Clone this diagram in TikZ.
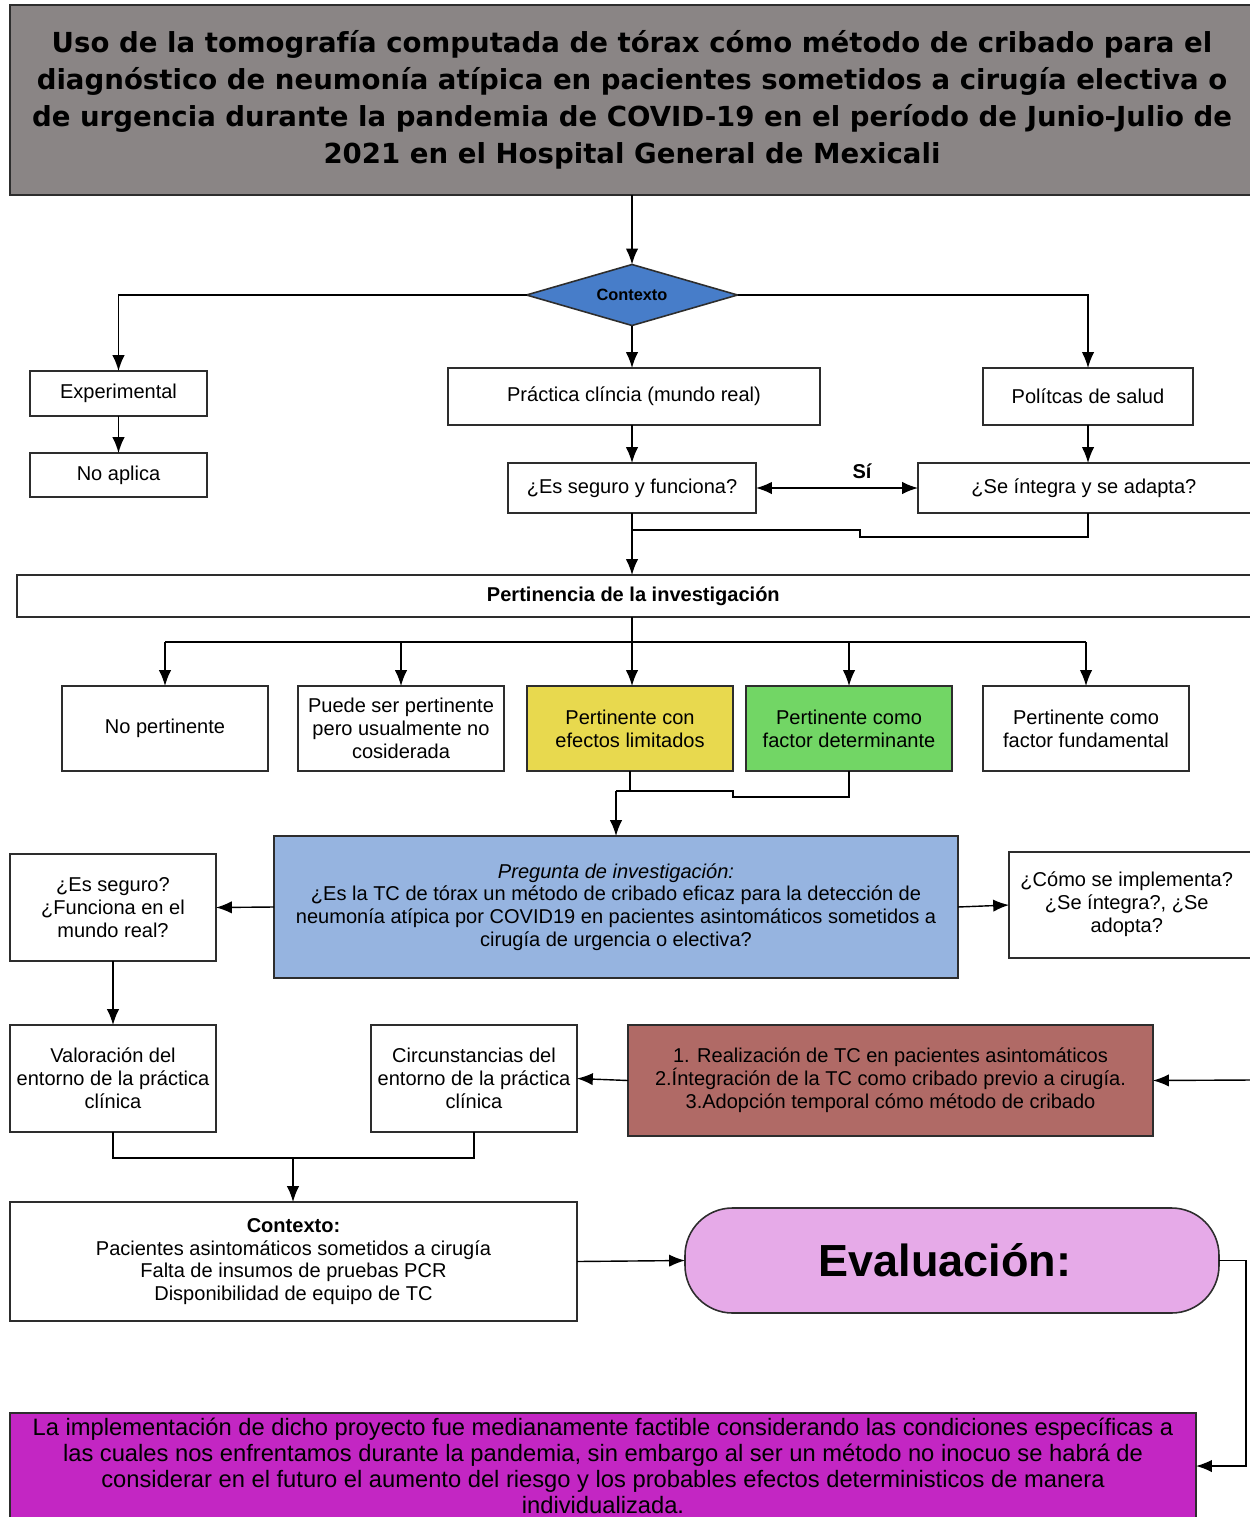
\documentclass[tikz,border=0pt]{standalone}
\usepackage{fontspec}
\setmainfont{Liberation Sans}
\newfontfamily\titlefont{DejaVu Sans}
\usetikzlibrary{shapes.geometric,arrows.meta}

\definecolor{titlegray}{RGB}{138,133,133}
\definecolor{ctxblue}{RGB}{71,125,201}
\definecolor{limyellow}{RGB}{232,217,78}
\definecolor{detgreen}{RGB}{114,214,101}
\definecolor{pregblue}{RGB}{150,180,224}
\definecolor{stepred}{RGB}{176,106,102}
\definecolor{evalpink}{RGB}{230,170,232}
\definecolor{concmag}{RGB}{195,38,195}
\definecolor{edge}{RGB}{45,45,45}

\begin{document}
\begin{tikzpicture}[x=0.02cm, y=-0.02cm, >={Latex[length=9pt,width=7pt]},
  box/.style 2 args = {draw=edge, line width=0.9pt, inner sep=0pt, outer sep=0pt, align=center,
    minimum width=#1*0.02cm, minimum height=#2*0.02cm, font=\fontsize{11.4}{13}\selectfont},
  link/.style = {draw=black, line width=0.8pt}]

% Frame
\useasboundingbox (0,0) rectangle (1250,1517);
\clip (0,0) rectangle (1250,1517);

% Title
\node[box={1244}{190}, fill=titlegray, font=\titlefont\bfseries\fontsize{15.7}{21}\selectfont] (title) at (632,100)
  {Uso de la tomografía computada de tórax cómo método de cribado para el\\
   diagnóstico de neumonía atípica en pacientes sometidos a cirugía electiva o\\
   de urgencia durante la pandemia de COVID-19 en el período de Junio-Julio de\\
   2021 en el Hospital General de Mexicali};

% Context
\node[draw=edge, line width=0.9pt, diamond, aspect=3.46, fill=ctxblue, inner sep=0pt, outer sep=0pt,
  minimum width=211*0.02cm, minimum height=61*0.02cm, font=\bfseries\fontsize{9.3}{11}\selectfont] (ctx) at (632,295) {Contexto};

\node[box={177}{45}] (exp) at (118.5,393.5) {Experimental};
\node[box={177}{44}] (noap) at (118.5,475) {No aplica};
\node[box={372}{57}] (prac) at (634,396.5) {Práctica clíncia (mundo real)};
\node[box={210}{57}] (pol) at (1088,396.5) {Polítcas de salud};
\node[box={248}{50}] (seg) at (632,488) {¿Es seguro y funciona?};
\node[box={344}{50}] (integ) at (1090,488) {\hspace*{-7pt}¿Se íntegra y se adapta?};
\node[font=\bfseries\fontsize{11.4}{13}\selectfont, inner sep=0pt] (si) at (862,471) {Sí};

% Relevance
\node[box={1245}{42}, font=\bfseries\fontsize{11.4}{13}\selectfont] (pert) at (639.5,596)
  {\hspace*{-7pt}Pertinencia de la investigación};
\node[box={206}{85}] (np1) at (165,728.5) {No pertinente};
\node[box={206}{85}] (np2) at (401,728.5) {Puede ser pertinente\\pero usualmente no\\cosiderada};
\node[box={206}{85}, fill=limyellow] (np3) at (630,728.5) {Pertinente con\\efectos limitados};
\node[box={206}{85}, fill=detgreen] (np4) at (849,728.5) {Pertinente como\\factor determinante};
\node[box={206}{85}] (np5) at (1086,728.5) {Pertinente como\\factor fundamental};

% Question
\node[box={684}{142}, fill=pregblue] (preg) at (616,907)
  {\textit{Pregunta de investigación:}\\
   ¿Es la TC de tórax un método de cribado eficaz para la detección de\\
   neumonía atípica por COVID19 en pacientes asintomáticos sometidos a\\
   cirugía de urgencia o electiva?};
\node[box={206}{107}] (segq) at (113,907.5) {¿Es seguro?\\¿Funciona en el\\mundo real?};
\node[box={253}{106}] (impl) at (1135.5,905) {\hspace*{-10pt}\begin{tabular}{@{}c@{}}¿Cómo se implementa?\\¿Se íntegra?, ¿Se\\adopta?\end{tabular}};

% Setting
\node[box={206}{107}] (val) at (113,1078.5) {Valoración del\\entorno de la práctica\\clínica};
\node[box={206}{107}] (circ) at (474,1078.5) {Circunstancias del\\entorno de la práctica\\clínica};
\node[box={525}{111}, fill=stepred] (red) at (890.5,1080.5)
  {1. Realización de TC en pacientes asintomáticos\\
   2.Íntegración de la TC como cribado previo a cirugía.\\
   3.Adopción temporal cómo método de cribado};
\node[box={567}{119}] (ctx2) at (293.5,1261.5)
  {\textbf{Contexto:}\\Pacientes asintomáticos sometidos a cirugía\\Falta de insumos de pruebas PCR\\Disponibilidad de equipo de TC};

% Evaluation
\node[box={534}{105}, fill=evalpink, rounded corners=0.95cm, font=\bfseries\fontsize{25.6}{30}\selectfont] (eval) at (952,1260.5)
  {\hspace*{-8pt}Evaluación:};
\node[box={1186}{106}, fill=concmag, font=\fontsize{13.5}{14.8}\selectfont] (final) at (603,1466)
  {La implementación de dicho proyecto fue medianamente factible considerando las condiciones específicas a\\
   las cuales nos enfrentamos durante la pandemia, sin embargo al ser un método no inocuo se habrá de\\
   considerar en el futuro el aumento del riesgo y los probables efectos deterministicos de manera\\
   individualizada.};

% Joints
\coordinate (j1) at (860,537);
\coordinate (j2) at (860,530);
\coordinate (hub) at (632,642);
\coordinate (m1) at (616,791);
\coordinate (m2) at (293,1158);
\coordinate (rin) at (1252,1080);

% Arrows
\draw[link,->] (title.south -| ctx.north) -- (ctx.north);
\draw[link,->] (ctx.west) -| (exp.north);
\draw[link,->] (ctx.east) -| (pol.north);
\draw[link,->] (ctx.south) -- (prac.north -| ctx.south);
\draw[link,->] (exp.south) -- (noap.north);
\draw[link,->] (prac.south -| seg.north) -- (seg.north);
\draw[link,->] (pol.south) -- (pol.south |- integ.north);
\draw[link,<->] (seg.east) -- (integ.west);
\draw[link,->] (seg.south) -- (seg.south |- pert.north);
\draw[link] (integ.south -| pol.south) |- (j1) -- (j2) -- (j2 -| seg.south);

\draw[link] (pert.south -| hub) -- (hub);
\draw[link] (np1.north |- hub) -- (np5.north |- hub);
\draw[link,->] (hub) -- (np3.north -| hub);
\foreach \n in {np1,np2,np4,np5}
  \draw[link,->] (\n.north |- hub) -- (\n.north);

\draw[link] (np3.south) |- (m1);
\draw[link] (np4.south) |- (733,797) -- (733,791) -- (np3.south |- m1);
\draw[link,->] (m1) -- (preg.north);

\draw[link,->] (preg.west) -- (segq.east);
\draw[link,->] (preg.east) -- (impl.west);
\draw[link,->] (segq.south) -- (val.north);
\draw[link,->] (red.west) -- (circ.east);
\draw[link,->] (rin) -- (red.east);
\draw[link] (val.south) |- (m2) -| (circ.south);
\draw[link,->] (m2) -- (ctx2.north -| m2);
\draw[link,->] (ctx2.east) -- (eval.west);
\draw[link,->] (eval.east) -- ++(27,0) |- (final.east);

\end{tikzpicture}
\end{document}
